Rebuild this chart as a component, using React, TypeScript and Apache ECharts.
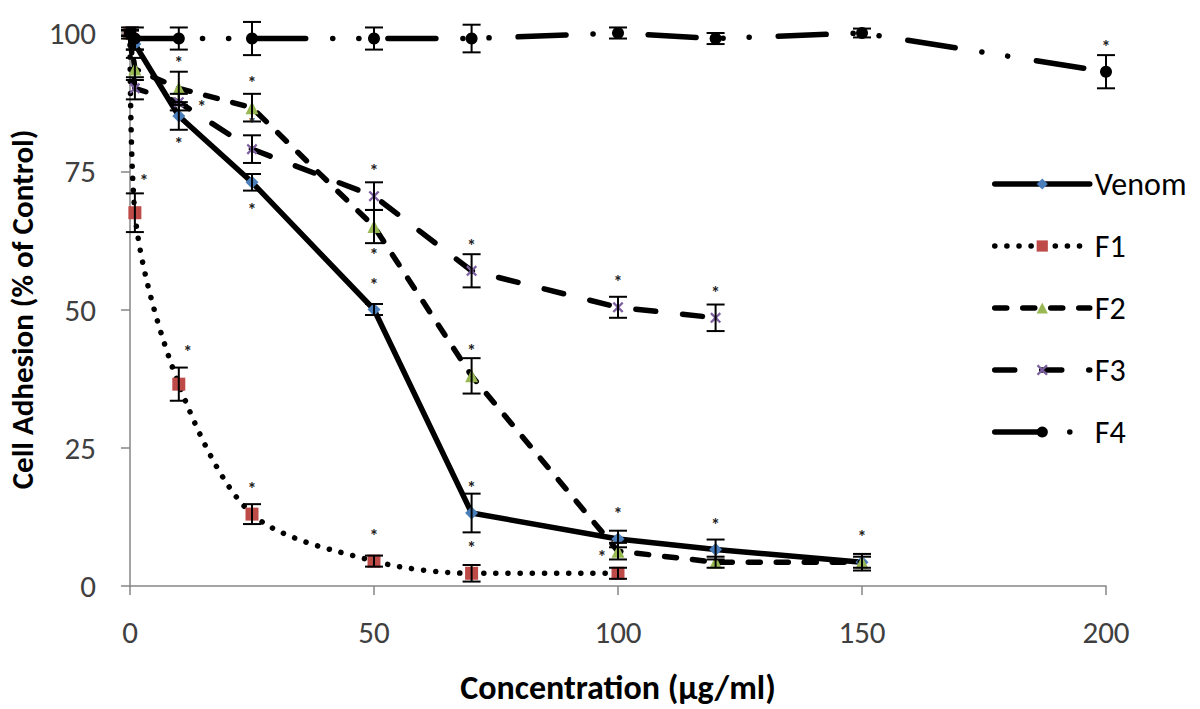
import React, { useEffect, useRef } from "react";
import * as echarts from "echarts";

// ---- data ----
const concentrations = [0, 1, 10, 25, 50, 70, 100, 120, 150, 200];
const seriesNames = ["Venom", "F1", "F2", "F3", "F4"];

const venom = [100, 98, 85, 73, 50, 13.2, 8.5, 6.6, 4.3, null];
const f1 = [100, 67.5, 36.5, 13, 4.5, 2.3, 2.3, null, null, null];
const f2 = [100, 93.5, 90, 86.5, 65, 38, 6.3, 4.3, 4.3, null];
const f3 = [100, 90, 87.5, 79, 70.5, 57, 50.4, 48.5, null, null];
const f4 = [100, 99, 99, 99, 99, 99, 100, 99, 100, 93];

const venomErr = [0.5, 1, 2.5, 1.5, 1, 3.5, 1.5, 1.8, 1, null];
const f1Err = [0.5, 3.5, 3, 1.8, 1, 1.5, 1, null, null, null];
const f2Err = [0.5, 2, 3, 2.5, 3, 3.2, 1.5, 1, 1.5, null];
const f3Err = [0.5, 2, 1.5, 2.5, 2.5, 3, 1.9, 2.4, null, null];
const f4Err = [1, 2, 2, 3, 2, 2.5, 1, 1, 0.8, 3];

// significance marks: "" none, t top, b bottom, r right, tr top-right, l left
const venomStars = ["", "", "b", "b", "t", "t", "t", "t", "t", ""];
const f1Stars = ["", "tr", "tr", "t", "t", "t", "l", "", "", ""];
const f2Stars = ["", "", "t", "t", "b", "t", "", "", "", ""];
const f3Stars = ["", "", "r", "t", "t", "t", "t", "t", "", ""];
const f4Stars = ["", "", "", "", "", "", "", "", "", "t"];

const yTicks = [0, 25, 50, 75, 100];
const xTicks = [0, 50, 100, 150, 200];

// ---- styles ----
const FONT = "Carlito, Lato, sans-serif";
const starOffset: Record<string, [number, number]> = {
  t: [0, -25],
  b: [0, 28],
  r: [23, 5],
  tr: [9, -32],
  l: [-16, -16],
};

const xShape =
  "path://M1.5,0 L5,3.5 L8.5,0 L10,1.5 L6.5,5 L10,8.5 L8.5,10 L5,6.5 L1.5,10 L0,8.5 L3.5,5 L0,1.5 Z";

const styles = [
  { symbol: "diamond", size: 13, color: "#4A7EBB", dash: "solid" as any, smooth: false },
  { symbol: "rect", size: 13, color: "#BE4B48", dash: [0.1, 12] as any, smooth: 0.3 },
  { symbol: "triangle", size: 13, color: "#98B954", dash: [12, 16] as any, smooth: false },
  { symbol: xShape, size: 11, color: "#7D60A0", dash: [20, 27] as any, smooth: false },
  { symbol: "circle", size: 12, color: "#000000", dash: [48, 27, 0.1, 26, 0.1, 29] as any, smooth: false },
];

export default function App() {
  const ref = useRef<HTMLDivElement>(null);
  useEffect(() => {
    document.body.style.margin = "0";
    if (!ref.current) return;
    const chart = echarts.init(ref.current, null, { renderer: "svg" });
    const values = [venom, f1, f2, f3, f4];
    const errs = [venomErr, f1Err, f2Err, f3Err, f4Err];
    const stars = [venomStars, f1Stars, f2Stars, f3Stars, f4Stars];

    const lineSeries: any[] = values.map((vals, si) => {
      const st = styles[si];
      const data = concentrations
        .map((x, i) => (vals[i] == null ? null : [x, vals[i]]))
        .filter((d) => d !== null);
      return {
        name: seriesNames[si],
        type: "line",
        data,
        smooth: st.smooth,
        symbol: st.symbol,
        symbolSize: st.size,
        showAllSymbol: true,
        itemStyle: { color: st.color, borderWidth: 0 },
        lineStyle: { color: "#000", width: 5.5, type: st.dash, cap: "round", join: "round" },
        z: 2 + si,
        clip: false,
      };
    });

    const errSeries: any[] = values.map((vals, si) => {
      const data = concentrations
        .map((x, i) => (vals[i] == null ? null : [x, vals[i], errs[si][i] ?? 0, i]))
        .filter((d) => d !== null);
      return {
        type: "custom",
        data,
        z: 10,
        clip: false,
        silent: true,
        itemStyle: { color: "#1a1a1a" },
        encode: { x: 0, y: 1 },
        renderItem: (params: any, api: any) => {
          const x = api.value(0);
          const y = api.value(1);
          const e = api.value(2);
          const idx = api.value(3);
          const top = api.coord([x, y + e]);
          const bot = api.coord([x, y - e]);
          const pt = api.coord([x, y]);
          const hw = 9;
          const ls = { stroke: "#000", lineWidth: 2 };
          const children: any[] = [
            { type: "line", shape: { x1: top[0], y1: top[1], x2: bot[0], y2: bot[1] }, style: ls },
            { type: "line", shape: { x1: top[0] - hw, y1: top[1], x2: top[0] + hw, y2: top[1] }, style: ls },
            { type: "line", shape: { x1: bot[0] - hw, y1: bot[1], x2: bot[0] + hw, y2: bot[1] }, style: ls },
          ];
          const s = stars[si][idx];
          if (s) {
            const off = starOffset[s];
            children.push({
              type: "text",
              x: pt[0] + off[0],
              y: pt[1] + off[1],
              style: {
                text: "*",
                fill: "#222222",
                fontSize: 18,
                fontWeight: "bold",
                fontFamily: FONT,
                align: "center",
                verticalAlign: "middle",
              },
            });
          }
          return { type: "group", children };
        },
      };
    });

    chart.setOption({
      animation: false,
      backgroundColor: "#ffffff",
      grid: { left: 130, right: 94, top: 33, bottom: 123, containLabel: false, outerBoundsMode: "none" },
      legend: {
        orient: "vertical",
        left: 987,
        top: 163,
        itemWidth: 95,
        itemHeight: 14,
        itemGap: 30,
        data: seriesNames,
        lineStyle: { width: 5.5 },
        textStyle: { fontFamily: FONT, fontSize: 32, color: "#000", lineHeight: 32, padding: [0, 0, 0, 0] },
      },
      xAxis: {
        type: "value",
        min: xTicks[0],
        max: xTicks[xTicks.length - 1],
        interval: 50,
        name: "Concentration (µg/ml)",
        nameLocation: "middle",
        nameGap: 84,
        nameTextStyle: { fontFamily: FONT, fontSize: 34, fontWeight: "bold", color: "#000" },
        axisLine: { show: true, lineStyle: { color: "#868686", width: 1.5 } },
        axisTick: { show: true, length: 9, lineStyle: { color: "#868686", width: 1.5 } },
        axisLabel: { fontFamily: FONT, fontSize: 31, color: "#404040", margin: 30 },
        splitLine: { show: false },
      },
      yAxis: {
        type: "value",
        min: yTicks[0],
        max: yTicks[yTicks.length - 1],
        interval: 25,
        name: "Cell Adhesion (% of Control)",
        nameLocation: "middle",
        nameGap: 92,
        nameTextStyle: { fontFamily: FONT, fontSize: 31, fontWeight: "bold", color: "#000" },
        axisLine: { show: true, lineStyle: { color: "#868686", width: 1.5 } },
        axisTick: { show: true, length: 9, lineStyle: { color: "#868686", width: 1.5 } },
        axisLabel: { fontFamily: FONT, fontSize: 31, color: "#404040", margin: 34 },
        splitLine: { show: false },
      },
      series: [...lineSeries, ...errSeries],
    });
    return () => chart.dispose();
  }, []);
  return <div ref={ref} style={{ width: 1200, height: 709 }} />;
}
